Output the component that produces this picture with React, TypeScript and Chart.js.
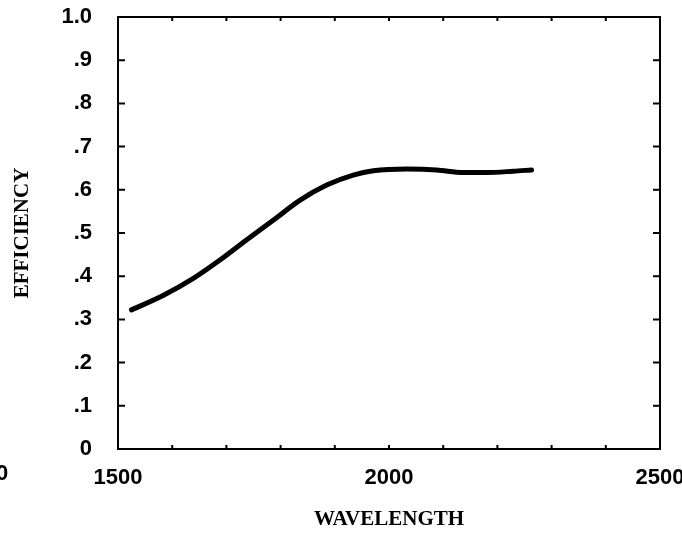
import React, { useEffect, useRef } from "react";
import { Chart, registerables } from "chart.js";

Chart.register(...registerables);

const wavelengths = [1525, 1584, 1639, 1688, 1737, 1787, 1836, 1885, 1934, 1971, 2033, 2088, 2137, 2180, 2229, 2263];
const efficiency = [0.322, 0.356, 0.395, 0.4375, 0.484, 0.53, 0.576, 0.611, 0.634, 0.644, 0.648, 0.646, 0.64, 0.64, 0.643, 0.646];
const xLabelValues = [1500, 2000, 2500];
const yTickLabels = ["0", ".1", ".2", ".3", ".4", ".5", ".6", ".7", ".8", ".9", "1.0"];
const strayLabel = "0";

const TICK_FONT = { family: "'Liberation Sans', Arial, sans-serif", size: 22, weight: "bold" as const };
const TITLE_FONT = { family: "'Liberation Serif', 'Times New Roman', serif", size: 21, weight: "bold" as const };

const framePlugin = {
  id: "frame",
  afterDraw(chart: any) {
    const { ctx, chartArea } = chart;
    const { left, right, top, bottom } = chartArea;
    const xs = chart.scales.x;
    const ys = chart.scales.y;
    ctx.save();
    ctx.strokeStyle = "#000";
    ctx.lineWidth = 2;
    ctx.strokeRect(left, top, right - left, bottom - top);
    ctx.beginPath();
    for (let v = 1500; v <= 2500; v += 100) {
      const px = xs.getPixelForValue(v);
      ctx.moveTo(px, bottom);
      ctx.lineTo(px, bottom - 4);
      ctx.moveTo(px, top);
      ctx.lineTo(px, top + 4);
    }
    for (let i = 0; i < yTickLabels.length; i++) {
      const py = ys.getPixelForValue(i / 10);
      ctx.moveTo(left, py);
      ctx.lineTo(left + 7, py);
      ctx.moveTo(right, py);
      ctx.lineTo(right - 7, py);
    }
    ctx.stroke();
    ctx.fillStyle = "#000";
    ctx.font = `bold ${TICK_FONT.size}px ${TICK_FONT.family}`;
    ctx.textAlign = "left";
    ctx.textBaseline = "middle";
    ctx.fillText(strayLabel, -4, 474);
    ctx.restore();
  },
};

export default function App() {
  const ref = useRef<HTMLCanvasElement | null>(null);
  useEffect(() => {
    document.body.style.margin = "0";
    const canvas = ref.current!;
    const chart = new Chart(canvas, {
      type: "line",
      data: {
        datasets: [
          {
            data: wavelengths.map((w, i) => ({ x: w, y: efficiency[i] })),
            borderColor: "#000",
            borderWidth: 5,
            pointRadius: 0,
            tension: 0.4,
            cubicInterpolationMode: "monotone",
            borderCapStyle: "round",
            fill: false,
          },
        ],
      },
      options: {
        responsive: false,
        animation: false,
        layout: { padding: { top: 17, right: 22, left: 0, bottom: 0 } },
        plugins: { legend: { display: false }, tooltip: { enabled: false } },
        scales: {
          x: {
            type: "linear",
            min: 1500,
            max: 2500,
            grid: { display: false },
            border: { display: false },
            ticks: {
              stepSize: 100,
              autoSkip: false,
              maxRotation: 0,
              padding: 8,
              color: "#000",
              font: TICK_FONT,
              callback: (v: any) => (xLabelValues.includes(Number(v)) ? String(v) : ""),
            },
            title: {
              display: true,
              text: "WAVELENGTH",
              color: "#000",
              font: TITLE_FONT,
              padding: { top: 0, bottom: 3 },
            },
            afterFit: (s: any) => {
              s.height = 86;
              s.paddingLeft = 0;
              s.paddingRight = 0;
            },
          },
          y: {
            type: "linear",
            min: 0,
            max: 1,
            grid: { display: false },
            border: { display: false },
            ticks: {
              stepSize: 0.1,
              autoSkip: false,
              padding: 18,
              color: "#000",
              font: TICK_FONT,
              callback: (v: any) => yTickLabels[Math.round(Number(v) * 10)] ?? "",
            },
            title: {
              display: true,
              text: "EFFICIENCY",
              color: "#000",
              font: TITLE_FONT,
              padding: { top: 10, bottom: 0 },
            },
            afterFit: (s: any) => {
              s.width = 118;
              s.paddingTop = 0;
              s.paddingBottom = 0;
            },
          },
        },
      },
      plugins: [framePlugin],
    } as any);
    return () => chart.destroy();
  }, []);
  return (
    <div style={{ position: "fixed", left: 0, top: 0, width: 682, height: 535, background: "#fff" }}>
      <canvas ref={ref} width={682} height={535} style={{ display: "block" }} />
    </div>
  );
}
